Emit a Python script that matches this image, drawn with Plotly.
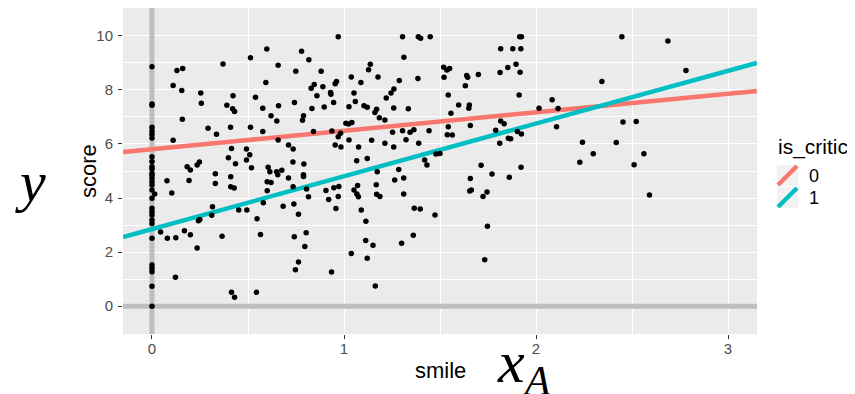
import plotly.graph_objects as go

# ---- data ----
zero_smile_scores = [8.86, 7.48, 7.43, 6.62, 6.48, 6.36, 6.22, 5.53, 5.35, 5.16, 5.07, 4.91,
                     4.85, 4.73, 4.60, 4.48, 4.30, 3.99, 3.62, 3.49, 3.37, 3.19, 3.06, 2.51,
                     1.52, 1.40, 1.27, 0.74, 0.00]

smile = [0.13, 0.16, 0.11, 0.155, 0.158, 0.11, 0.254, 0.257, 0.37, 0.292, 0.336, 0.422, 0.39,
         0.42, 0.43, 0.409, 0.513, 0.598, 0.593, 0.539, 0.577, 0.62, 0.513, 0.577, 0.414, 0.398,
         0.435, 0.492, 0.509, 0.492, 0.518, 0.183, 0.20, 0.235, 0.247, 0.33, 0.605, 0.614,
         0.014, 0.078, 0.103, 0.193, 0.33, 0.41, 0.41, 0.428, 0.60, 0.62, 0.60, 0.58, 0.315,
         0.311, 0.249, 0.242, 0.452, 0.494, 0.547, 0.565, 0.045, 0.08, 0.124, 0.169, 0.20,
         0.235, 0.365, 0.122, 0.414, 0.43, 0.544,
         0.97, 1.305, 0.779, 0.817, 0.657, 0.749, 0.881, 0.845, 0.829, 0.89, 0.859, 0.93,
         0.932, 0.954, 0.961, 1.038, 1.088, 1.128, 1.137, 1.177, 1.312, 1.288, 1.26, 1.245,
         1.22, 1.259, 0.742, 0.659, 0.833, 0.897, 0.946, 1.052, 1.059, 1.026, 1.104, 1.121,
         1.17, 1.161, 1.184, 1.213, 0.65, 0.789, 0.784, 1.01, 1.024, 1.041, 1.253, 1.305,
         0.841, 0.937, 0.97, 0.982, 0.657, 1.026, 1.144, 1.213, 0.711, 0.735, 0.954, 0.984,
         1.076, 1.259, 0.734, 0.791, 1.066, 1.121, 0.649, 0.676, 0.789, 1.173, 1.285,
         0.655, 0.711, 0.789, 0.735, 0.805, 0.815, 0.683, 0.739, 0.763, 0.741, 0.803, 0.796,
         0.763, 0.747, 0.935, 0.906, 0.92, 0.947, 0.973, 0.97, 0.958, 1.071, 1.052, 1.067,
         1.075, 1.168, 1.17, 1.187, 1.264, 1.311, 1.311, 1.09, 1.114, 1.113, 1.151, 1.038,
         1.121, 1.163, 1.30,
         1.387, 1.399, 1.449, 1.385, 1.335, 1.519, 1.536, 1.55, 1.521, 1.639, 1.644, 1.70,
         1.632, 1.543, 1.597, 1.653, 1.65, 1.557, 1.658, 1.543, 1.443, 1.344, 1.364, 1.323,
         1.389, 1.538, 1.564, 1.42, 1.432, 1.479, 1.50, 1.714, 1.771, 1.816, 1.879, 1.921,
         1.915, 1.924, 1.896, 1.853, 1.813, 1.917, 1.912, 1.816, 1.834, 1.79, 1.903, 1.924,
         1.856, 1.868, 1.811, 2.016, 1.922,
         1.366, 1.397, 1.474, 1.361, 1.658, 1.861, 1.655, 1.663, 1.745, 1.724, 1.747, 1.733,
         2.447, 2.343, 2.084, 2.115, 2.107, 2.453, 2.242, 2.418, 2.298, 2.228, 2.687, 2.781,
         2.522, 2.562, 2.511, 2.591]

score = [8.72, 8.79, 8.16, 7.98, 6.91, 6.14, 7.89, 7.51, 8.96, 6.58, 6.36, 7.78, 7.43,
         7.30, 7.20, 6.62, 9.19, 9.51, 8.27, 7.73, 7.32, 7.04, 6.62, 6.46, 5.83, 5.49,
         5.27, 5.81, 5.60, 5.41, 5.12, 5.16, 5.04, 5.22, 5.33, 4.90, 5.14, 4.97,
         4.15, 4.64, 4.19, 4.65, 4.54, 4.79, 4.42, 4.37, 4.60, 4.57, 4.27, 3.83, 3.68,
         3.36, 3.21, 3.16, 3.56, 3.56, 3.23, 2.65, 2.74, 2.51, 2.53, 2.79, 2.64,
         2.15, 2.59, 1.07, 0.51, 0.33, 0.51,
         9.97, 9.97, 9.43, 9.12, 8.91, 8.69, 8.69, 8.20, 8.06, 8.12, 7.78, 7.90,
         7.84, 8.23, 8.31, 8.48, 8.27, 8.75, 8.95, 8.48, 9.21, 8.35, 8.03, 7.89,
         7.70, 7.33, 7.53, 7.41, 7.31, 7.37, 7.53, 7.89, 7.57, 7.38, 7.41, 7.36,
         7.28, 7.16, 6.97, 6.89, 6.85, 7.04, 6.88, 6.77, 6.74, 6.79, 6.43, 6.49,
         6.46, 6.48, 6.27, 6.40, 6.15, 6.15, 6.14, 6.03, 5.96, 5.81, 5.96, 5.89,
         5.89, 5.89, 5.33, 5.26, 5.38, 5.46, 4.97, 5.03, 4.86, 4.97, 5.06,
         4.86, 4.74, 4.80, 4.42, 4.33, 4.05, 3.70, 3.78, 3.40, 2.57, 2.72, 2.21,
         1.63, 1.35, 1.26, 4.28, 3.95, 4.38, 4.43, 4.06, 3.61, 4.46, 4.30, 4.15,
         4.05, 4.49, 4.14, 4.06, 4.67, 4.74, 4.15, 3.56, 3.14, 2.43, 2.25, 1.95,
         1.77, 0.75, 2.33,
         9.97, 9.91, 9.97, 8.42, 7.30, 8.84, 8.74, 8.79, 8.47, 8.53, 8.47, 8.57,
         8.15, 7.81, 7.44, 7.44, 7.32, 7.14, 6.68, 6.64, 6.49, 6.43, 6.53, 6.16,
         6.03, 6.34, 6.33, 5.41, 5.22, 5.63, 5.65, 5.21, 4.89, 9.52, 9.52, 9.52,
         9.97, 9.97, 8.95, 8.83, 8.64, 8.65, 7.81, 6.85, 6.75, 6.51, 6.46, 6.37,
         6.21, 6.19, 6.03, 7.32, 5.14,
         3.62, 3.59, 3.37, 2.62, 4.72, 4.77, 4.26, 4.30, 4.22, 4.06, 2.96, 1.72,
         9.97, 8.31, 7.64, 7.31, 6.64, 6.81, 6.06, 6.05, 5.64, 5.32, 9.81, 8.72,
         6.83, 5.64, 5.23, 4.11]

# fitted lines (end points read at the plot edges)
line_smile = [-0.15, 3.15]
line_score_critic0 = [5.70, 7.96]
line_score_critic1 = [2.56, 9.00]
critic_levels = ["0", "1"]
critic_colors = ["#F8766D", "#00BFC4"]

x_ticks = [0, 1, 2, 3]
y_ticks = [0, 2, 4, 6, 8, 10]
x_range = [-0.151, 3.151]
y_range = [-1.03, 11.03]

all_smile = [0.0] * len(zero_smile_scores) + smile
all_score = zero_smile_scores + score

# page layout (the page body adds an 8px offset)
OFF = 8
W, H = 855 - OFF, 394 - OFF
PL, PR, PT, PB = 123, 757, 8, 334   # plot area in page pixels

fig = go.Figure()

# reference lines at x=0 and y=0
fig.add_trace(go.Scatter(x=[0, 0], y=y_range, mode="lines",
                         line=dict(color="#BEBEBE", width=5), hoverinfo="skip", showlegend=False))
fig.add_trace(go.Scatter(x=x_range, y=[0, 0], mode="lines",
                         line=dict(color="#BEBEBE", width=5), hoverinfo="skip", showlegend=False))

# regression lines
for lvl, col, ys in zip(critic_levels, critic_colors, [line_score_critic0, line_score_critic1]):
    fig.add_trace(go.Scatter(x=line_smile, y=ys, mode="lines", name=lvl,
                             line=dict(color=col, width=4.5), showlegend=False))

# points
fig.add_trace(go.Scatter(x=all_smile, y=all_score, mode="markers",
                         marker=dict(color="black", size=5.5), showlegend=False))

grid = dict(showgrid=True, gridcolor="white", gridwidth=1.1, zeroline=False,
            ticks="outside", ticklen=4, tickcolor="#333333", tickwidth=1,
            tickfont=dict(family="Liberation Sans, Arial", size=15, color="#4D4D4D"),
            showline=False, automargin=False)

fig.update_layout(
    width=W, height=H,
    margin=dict(l=PL - OFF, r=W - (PR - OFF), t=PT - OFF, b=H - (PB - OFF), pad=0),
    paper_bgcolor="white", plot_bgcolor="#EBEBEB",
    xaxis=dict(range=x_range, tickvals=x_ticks, ticklabelstandoff=-3, **grid,
               minor=dict(dtick=0.5, tick0=0, showgrid=True, gridcolor="white",
                          gridwidth=0.5, ticklen=0)),
    yaxis=dict(range=y_range, tickvals=y_ticks, ticklabelstandoff=2, **grid,
               minor=dict(dtick=1, tick0=0, showgrid=True, gridcolor="white",
                          gridwidth=0.5, ticklen=0)),
    font=dict(family="Liberation Sans, Arial"),
)


def px(v):
    return (v - PL) / (PR - PL)


def py(v):
    return (PB - v) / (PB - PT)


annos = [
    dict(text="smile", x=440, y=370, font=dict(size=22, color="black")),
    dict(text="score", x=88, y=171, textangle=-90, font=dict(size=22, color="black")),
    dict(text="<i>y</i>", x=31, y=181, font=dict(family="Liberation Serif", size=58, color="black")),
    dict(text="<i>x</i><sub><i>A</i></sub>", x=524, y=366,
         font=dict(family="Liberation Serif", size=60, color="black")),
    dict(text="is_critic", x=776, y=147, xanchor="left", font=dict(size=21, color="black")),
]
for i, lvl in enumerate(critic_levels):
    annos.append(dict(text=lvl, x=807, y=176 + 22 * i, xanchor="left",
                      font=dict(size=18, color="black")))

for a in annos:
    a.setdefault("xanchor", "center")
    fig.add_annotation(xref="paper", yref="paper", showarrow=False, yanchor="middle",
                       x=px(a.pop("x")), y=py(a.pop("y")), **a)

# legend keys (slanted line glyphs)
for i, col in enumerate(critic_colors):
    top = 165 + 22 * i
    x0p, x1p = 777, 798
    y0p, y1p = top, top + 21
    fig.add_shape(type="rect", xref="paper", yref="paper", x0=px(x0p), x1=px(x1p),
                  y0=py(y1p), y1=py(y0p), fillcolor="#F2F2F2", line=dict(width=0))
    fig.add_shape(type="line", xref="paper", yref="paper", x0=px(x0p + 1), x1=px(x1p - 1),
                  y0=py(y1p - 1), y1=py(y0p + 1), line=dict(color=col, width=4.5))

fig.write_html("out.html")
